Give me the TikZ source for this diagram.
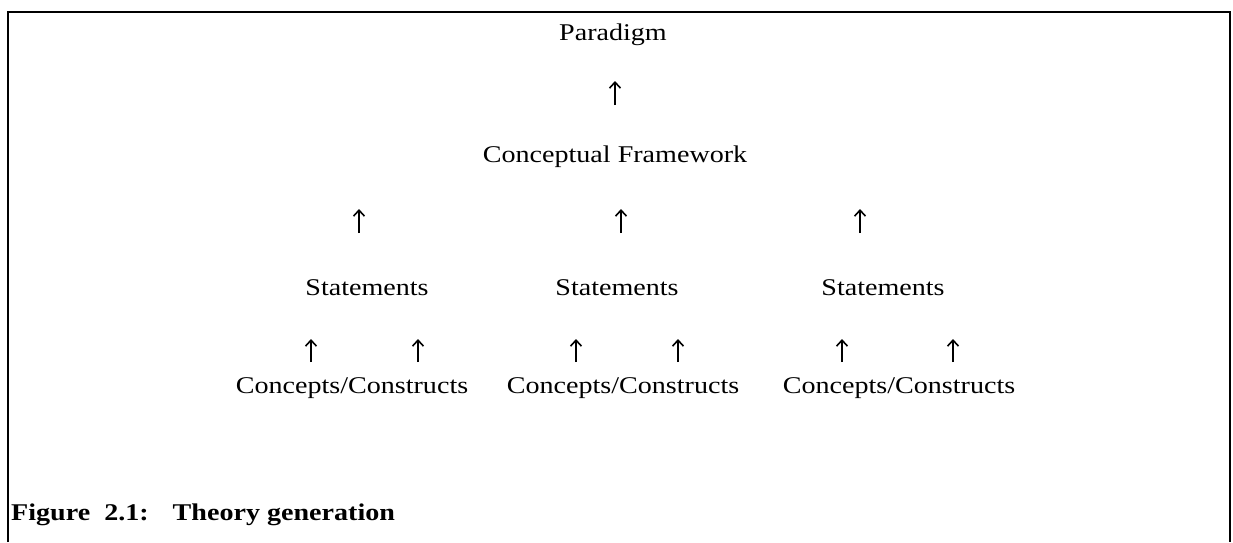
\documentclass[tikz,border=0pt]{standalone}
\usepackage{fontspec}
\setmainfont{Liberation Serif}[FakeStretch=1.17]
\usetikzlibrary{arrows.meta}
\tikzset{
  lbl/.style={anchor=base, inner sep=0pt, font=\fontsize{24}{27}\selectfont},
  figcaption/.style={anchor=base west, inner sep=0pt, font=\fontsize{24}{27}\selectfont\bfseries},
  uparr/.style={line width=1.6pt, -{Straight Barb[length=6pt,width=11pt,line width=1.6pt]}},
  frame/.style={line width=1.8pt}
}
\begin{document}
\begin{tikzpicture}[x=1pt,y=-1pt]
\useasboundingbox (0,0) rectangle (1233,542);
\coordinate (fbl) at (8,542);
\coordinate (ftl) at (8,12);
\coordinate (ftr) at (1230,12);
\coordinate (fbr) at (1230,542);
\draw[frame] (fbl) -- (ftl) -- (ftr) -- (fbr);

\node[lbl] (par) at (613,40) {Paradigm};
\node[lbl] (cf) at (615,162) {Conceptual Framework};
\node[lbl] (s1) at (367,295) {Statements};
\node[lbl] (s2) at (617,295) {Statements};
\node[lbl] (s3) at (883,295) {Statements};
\node[lbl] (c1) at (352,393) {Concepts/Constructs};
\node[lbl] (c2) at (623,393) {Concepts/Constructs};
\node[lbl] (c3) at (899,393) {Concepts/Constructs};
\node[figcaption] (caption) at (11,520) {Figure\ \ 2.1:\quad Theory generation};

% arrows
\coordinate (a0b) at (615,105); \coordinate (a0t) at (615,81);
\draw[uparr] (a0b) -- (a0t);
\foreach \i/\x in {1/359,2/621,3/860}{
  \coordinate (b\i b) at (\x,233); \coordinate (b\i t) at (\x,209);
  \draw[uparr] (b\i b) -- (b\i t);
}
\foreach \i/\x in {1/311,2/418,3/576,4/678,5/842,6/953}{
  \coordinate (d\i b) at (\x,362); \coordinate (d\i t) at (\x,339);
  \draw[uparr] (d\i b) -- (d\i t);
}
\end{tikzpicture}
\end{document}
